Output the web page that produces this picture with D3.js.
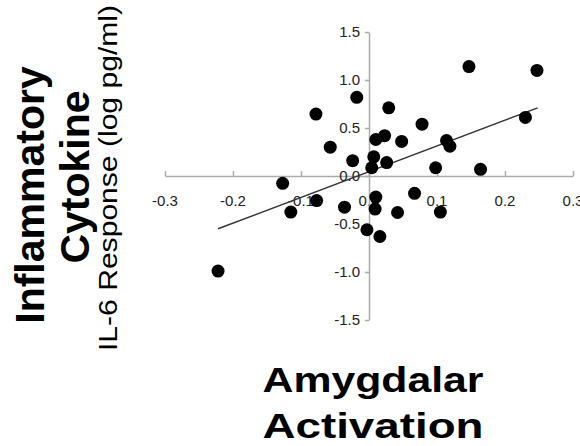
<!DOCTYPE html>
<html>
<head>
<meta charset="utf-8">
<script src="https://cdn.jsdelivr.net/npm/d3@7"></script>
<style>
  body { margin: 0; background: #fff; }
  svg { font-family: Arial, "Liberation Sans", sans-serif; }
</style>
</head>
<body>
<svg width="580" height="446"></svg>
<script>
// amygdalar activation (x) vs IL-6 response (y)
const activation = [-0.078, -0.018, -0.057, -0.024, 0.010, 0.023, 0.029, 0.007, 0.004, 0.026,
  0.048, 0.078, 0.098, 0.114, 0.119, 0.147, 0.164, 0.230, 0.247,
  -0.127, -0.115, -0.077, -0.036, 0.010, 0.009, 0.042, 0.067, 0.105, -0.003, 0.016, -0.222];
const il6 = [0.645, 0.82, 0.30, 0.16, 0.38, 0.42, 0.71, 0.20, 0.086, 0.14,
  0.36, 0.54, 0.086, 0.37, 0.31, 1.14, 0.07, 0.61, 1.10,
  -0.076, -0.376, -0.256, -0.325, -0.22, -0.345, -0.38, -0.18, -0.376, -0.56, -0.63, -0.99];
const fitX = [-0.222, 0.248];
const fitY = [-0.55, 0.71];
const xTicks = [-0.3, -0.2, -0.1, 0, 0.1, 0.2, 0.3];
const yTicks = [-1.5, -1.0, -0.5, 0, 0.5, 1.0, 1.5];

const svg = d3.select("svg");

const x = d3.scaleLinear().domain([-0.3, 0.3]).range([165, 573]);
const y = d3.scaleLinear().domain([-1.5, 1.5]).range([320, 32]);
const fmt = d => d3.format(".1f")(d).replace("−", "-");

// x axis through zero, ticks pointing up
const xAxis = svg.append("g")
  .attr("transform", `translate(0,${y(0)})`)
  .call(d3.axisTop(x).tickValues(xTicks).tickSize(5).tickSizeOuter(0).tickFormat(""));
xAxis.select(".domain").attr("stroke", "#aaa").attr("stroke-width", 1.5);
xAxis.selectAll(".tick line").attr("stroke", "#aaa").attr("stroke-width", 1.5);

svg.append("g").selectAll("text")
  .data(xTicks)
  .enter().append("text")
  .attr("x", d => x(d))
  .attr("y", y(0) + 30)
  .attr("text-anchor", "middle")
  .attr("font-size", 15)
  .attr("fill", "#222")
  .text(fmt);

// y axis through zero, ticks pointing left
const yAxis = svg.append("g")
  .attr("transform", `translate(${x(0)},0)`)
  .call(d3.axisLeft(y).tickValues(yTicks).tickSize(4).tickSizeOuter(0).tickFormat(""));
yAxis.select(".domain").attr("stroke", "#aaa").attr("stroke-width", 1.5);
yAxis.selectAll(".tick line").attr("stroke", "#aaa").attr("stroke-width", 1.5);

svg.append("g").selectAll("text")
  .data(yTicks)
  .enter().append("text")
  .attr("x", x(0) - 9)
  .attr("y", d => y(d) + 5)
  .attr("text-anchor", "end")
  .attr("font-size", 15)
  .attr("fill", "#222")
  .text(fmt);

// trend line
svg.append("line")
  .attr("x1", x(fitX[0])).attr("y1", y(fitY[0]))
  .attr("x2", x(fitX[1])).attr("y2", y(fitY[1]))
  .attr("stroke", "#333")
  .attr("stroke-width", 1.5);

// points
svg.append("g").selectAll("circle")
  .data(activation.map((a, i) => [a, il6[i]]))
  .enter().append("circle")
  .attr("cx", d => x(d[0]))
  .attr("cy", d => y(d[1]))
  .attr("r", 6.5)
  .attr("fill", "#000");

// y title
const yTitle = svg.append("g");
yTitle.append("text")
  .attr("transform", "translate(44,195) rotate(-90)")
  .attr("text-anchor", "middle")
  .attr("font-weight", "bold")
  .attr("font-size", 41)
  .text("Inflammatory");
yTitle.append("text")
  .attr("transform", "translate(89,177) rotate(-90)")
  .attr("text-anchor", "middle")
  .attr("font-weight", "bold")
  .attr("font-size", 41)
  .text("Cytokine");
yTitle.append("text")
  .attr("transform", "translate(117,178) rotate(-90)")
  .attr("text-anchor", "middle")
  .attr("font-size", 26)
  .attr("textLength", 346)
  .attr("lengthAdjust", "spacingAndGlyphs")
  .text("IL-6 Response (log pg/ml)");

// x title
svg.append("text")
  .attr("x", 373).attr("y", 392)
  .attr("text-anchor", "middle")
  .attr("font-weight", "bold")
  .attr("font-size", 35)
  .attr("textLength", 221)
  .attr("lengthAdjust", "spacingAndGlyphs")
  .text("Amygdalar");
svg.append("text")
  .attr("x", 373).attr("y", 438)
  .attr("text-anchor", "middle")
  .attr("font-weight", "bold")
  .attr("font-size", 35)
  .attr("textLength", 221)
  .attr("lengthAdjust", "spacingAndGlyphs")
  .text("Activation");
</script>
</body>
</html>
